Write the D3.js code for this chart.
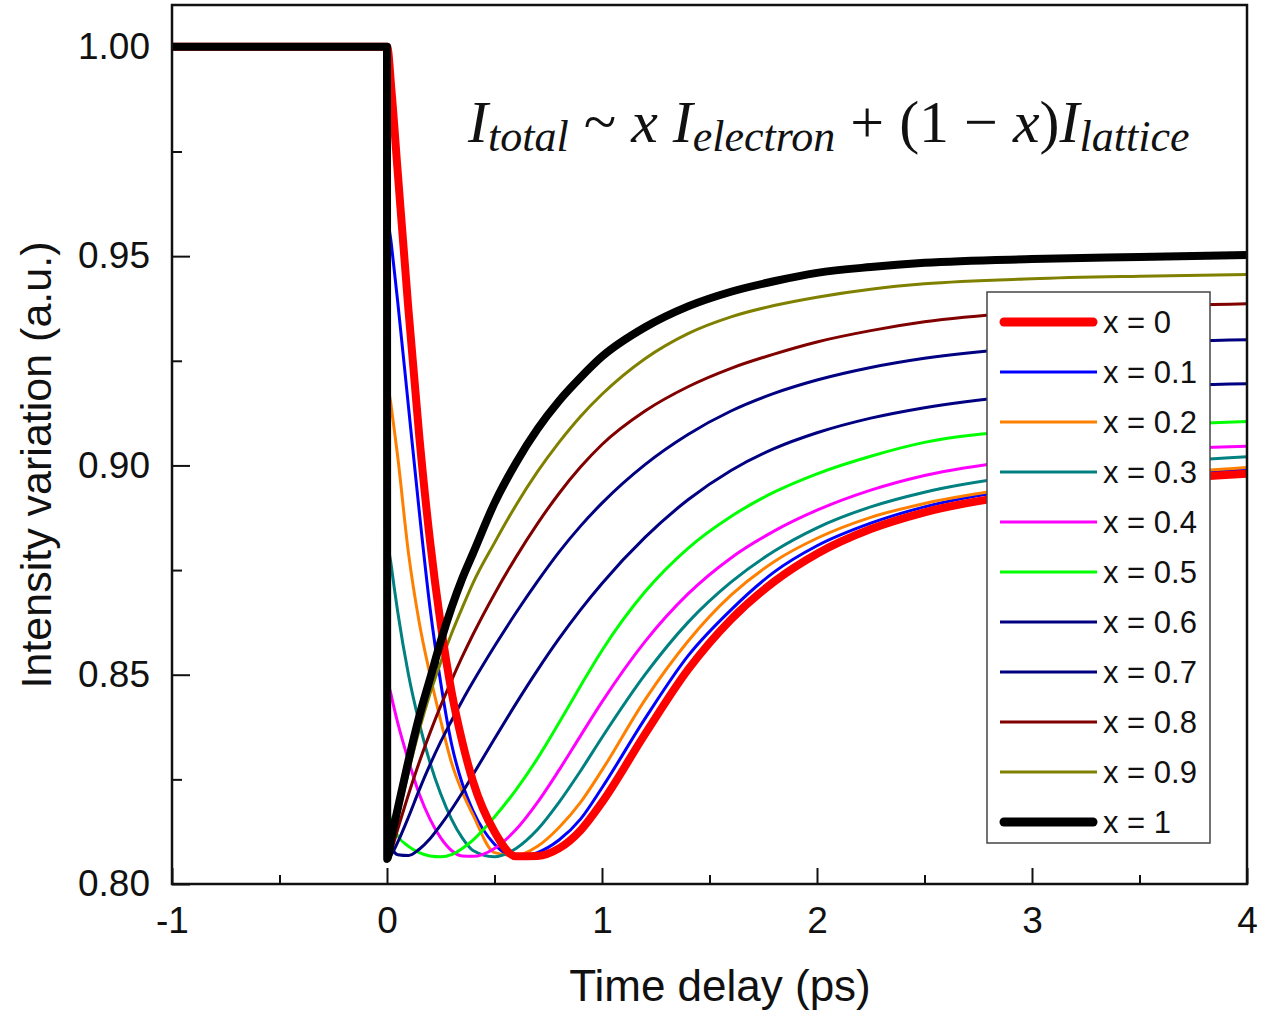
<!DOCTYPE html>
<html>
<head>
<meta charset="utf-8">
<script src="https://cdn.jsdelivr.net/npm/d3@7"></script>
<style>
    body { margin: 0; background: #fff; }
    text { font-family: "Liberation Sans", Arial, sans-serif; fill: #111; }
</style>
</head>
<body>
<svg id="chart" width="1270" height="1014"></svg>
<script>
// time delay (ps), shared by every curve
var times = [-1, 0, 0.001, 0.02, 0.05, 0.1, 0.15, 0.2, 0.25, 0.3, 0.35, 0.4, 0.5, 0.6, 0.7,
    0.8, 0.9, 1.0, 1.2, 1.4, 1.6, 1.8, 2.0, 2.25, 2.5, 3.0, 3.5, 4.0];

// intensity for each mixing ratio x
var x00 = [1, 1, 1.0, 0.990, 0.970, 0.937, 0.907, 0.882, 0.862, 0.846, 0.834, 0.8245, 0.8125, 0.8066, 0.8067,
    0.8085, 0.8128, 0.8195, 0.8358, 0.8512, 0.8632, 0.8722, 0.8789, 0.8848, 0.8888, 0.8934, 0.8962, 0.898];
var x01 = [1, 1, 0.962, 0.953, 0.939, 0.914, 0.889, 0.866, 0.848, 0.8335, 0.824, 0.8175, 0.8095, 0.8065, 0.8075,
    0.8105, 0.8155, 0.823, 0.8395, 0.8545, 0.8655, 0.8745, 0.8808, 0.8862, 0.8901, 0.8948, 0.8975, 0.899];
var x02 = [1, 1, 0.922, 0.914, 0.902, 0.879, 0.8625, 0.850, 0.839, 0.829, 0.822, 0.8165, 0.8075, 0.8068, 0.809,
    0.8135, 0.8195, 0.8272, 0.844, 0.858, 0.869, 0.877, 0.8826, 0.8876, 0.8909, 0.8951, 0.8976, 0.8995];
var x03 = [1, 1, 0.884, 0.876, 0.865, 0.850, 0.8385, 0.829, 0.8215, 0.8155, 0.811, 0.808, 0.8065, 0.8085, 0.813,
    0.8195, 0.827, 0.835, 0.850, 0.8625, 0.8721, 0.8795, 0.8851, 0.8901, 0.8936, 0.8979, 0.9004, 0.9021];
var x04 = [1, 1, 0.850, 0.845, 0.8385, 0.8295, 0.8215, 0.8155, 0.811, 0.808, 0.8067, 0.8066, 0.8085, 0.813, 0.8195,
    0.8272, 0.8354, 0.8435, 0.8579, 0.8693, 0.8779, 0.8843, 0.8893, 0.8941, 0.8976, 0.9016, 0.9036, 0.9046];
var x05 = [1, 1, 0.820, 0.815, 0.8115, 0.809, 0.8075, 0.8067, 0.8065, 0.807, 0.8085, 0.8105, 0.816, 0.8225, 0.830,
    0.8385, 0.8473, 0.8558, 0.8698, 0.8802, 0.8878, 0.8936, 0.898, 0.9022, 0.9055, 0.9085, 0.9095, 0.9105];
var x06 = [1, 1, 0.812, 0.809, 0.807, 0.8068, 0.8083, 0.8108, 0.8141, 0.8178, 0.8218, 0.8261, 0.8347, 0.8431, 0.8511,
    0.8586, 0.8655, 0.8718, 0.8828, 0.8918, 0.8988, 0.904, 0.9078, 0.9113, 0.9138, 0.917, 0.9188, 0.9195];
var x07 = [1, 1, 0.806, 0.807, 0.810, 0.816, 0.8225, 0.8285, 0.834, 0.839, 0.8438, 0.8483, 0.8568, 0.8648, 0.8723,
    0.8793, 0.8855, 0.891, 0.9002, 0.9074, 0.913, 0.9172, 0.9204, 0.9234, 0.9256, 0.9282, 0.9294, 0.930];
var x08 = [1, 1, 0.806, 0.808, 0.8131, 0.8214, 0.8291, 0.8361, 0.8426, 0.8486, 0.8543, 0.8596, 0.8693, 0.8781, 0.8861,
    0.8933, 0.8996, 0.905, 0.913, 0.9188, 0.9232, 0.9266, 0.9295, 0.9322, 0.9343, 0.9367, 0.9379, 0.9386];
var x09 = [1, 1, 0.806, 0.8089, 0.8158, 0.8268, 0.8368, 0.8455, 0.853, 0.8598, 0.866, 0.8719, 0.8815, 0.8905, 0.8985,
    0.9055, 0.9117, 0.917, 0.9255, 0.9315, 0.9355, 0.9382, 0.9402, 0.9421, 0.9434, 0.9446, 0.9452, 0.9456];
var x10 = [1, 1, 0.806, 0.811, 0.818, 0.8295, 0.840, 0.849, 0.858, 0.866, 0.873, 0.879, 0.891, 0.9006, 0.9087,
    0.9154, 0.921, 0.926, 0.933, 0.938, 0.9415, 0.944, 0.946, 0.9474, 0.9484, 0.9493, 0.9498, 0.9503];

var seriesLabels = ['x = 0', 'x = 0.1', 'x = 0.2', 'x = 0.3', 'x = 0.4', 'x = 0.5',
    'x = 0.6', 'x = 0.7', 'x = 0.8', 'x = 0.9', 'x = 1'];
var xTicks = [-1, 0, 1, 2, 3, 4];
var xMinorTicks = [-0.5, 0.5, 1.5, 2.5, 3.5];
var yTicks = [0.80, 0.85, 0.90, 0.95, 1.00];
var yMinorTicks = [0.825, 0.875, 0.925, 0.975];

// styles
var colors = ['#ff0000', '#0000ff', '#ff8000', '#008080', '#ff00ff', '#00ff00',
    '#000080', '#000080', '#800000', '#808000', '#000000'];
var widths = [8, 3, 3, 3, 3, 3, 3, 3, 3, 3, 8];

var series = [x00, x01, x02, x03, x04, x05, x06, x07, x08, x09, x10].map(function (vals, i) {
    return {
        label: seriesLabels[i],
        color: colors[i],
        width: widths[i],
        points: times.map(function (t, j) { return [t, vals[j]]; })
    };
});

var svg = d3.select('#chart');
var margin = {top: 5, right: 23, bottom: 130, left: 172};
var width = 1270 - margin.left - margin.right;
var height = 1014 - margin.top - margin.bottom;

var g = svg.append('g')
    .attr('transform', 'translate(' + [margin.left, margin.top] + ')');

var x = d3.scaleLinear().domain([-1, 4]).range([0, width]);
var y = d3.scaleLinear().domain([0.80, 1.01]).range([height, 0]);

// axes, ticks point inward
g.append('g')
    .attr('transform', 'translate(0,' + height + ')')
    .call(d3.axisBottom(x).tickValues(xTicks).tickSizeInner(-16).tickSizeOuter(0).tickPadding(23)
        .tickFormat(function (d) { return String(d); }));
g.append('g')
    .attr('transform', 'translate(0,' + height + ')')
    .call(d3.axisBottom(x).tickValues(xMinorTicks).tickSizeInner(-9).tickSizeOuter(0).tickFormat(''));

g.append('g')
    .call(d3.axisLeft(y).tickValues(yTicks).tickSizeInner(-18).tickSizeOuter(0).tickPadding(22)
        .tickFormat(d3.format('.2f')));
g.append('g')
    .call(d3.axisLeft(y).tickValues(yMinorTicks).tickSizeInner(-10).tickSizeOuter(0).tickFormat(''));

g.selectAll('.domain').remove();
g.selectAll('.tick line').attr('stroke', '#111').attr('stroke-width', 2);
g.selectAll('.tick text')
    .style('font-size', '37px')
    .style('font-family', '"Liberation Sans", Arial, sans-serif')
    .attr('fill', '#111');

// curves
var line = d3.line()
    .x(function (d) { return x(d[0]); })
    .y(function (d) { return y(d[1]); })
    .curve(d3.curveMonotoneX);

var drawOrder = [1, 2, 3, 4, 5, 6, 7, 8, 9, 0, 10];
g.selectAll('.curve')
    .data(drawOrder.map(function (i) { return series[i]; }))
    .enter()
    .append('path')
    .attr('class', 'curve')
    .attr('d', function (d) { return line(d.points); })
    .style('fill', 'none')
    .attr('stroke', function (d) { return d.color; })
    .attr('stroke-width', function (d) { return d.width; })
    .attr('stroke-linejoin', 'round');

// frame
g.append('rect')
    .attr('width', width)
    .attr('height', height)
    .style('fill', 'none')
    .attr('stroke', '#111')
    .attr('stroke-width', 2.5);

// formula
var formula = svg.append('text')
    .attr('x', 468)
    .attr('y', 142)
    .style('font-family', '"Liberation Serif", "DejaVu Serif", serif')
    .style('font-size', '60px')
    .attr('fill', '#111');

var parts = [
    {t: 'I', it: true}, {t: 'total', it: true, sub: true},
    {t: ' ~ ', it: false}, {t: 'x', it: true}, {t: ' I', it: true},
    {t: 'electron', it: true, sub: true}, {t: ' + (1 \u2212 ', it: false},
    {t: 'x', it: true}, {t: ')', it: false}, {t: 'I', it: true},
    {t: 'lattice', it: true, sub: true}
];
var prevSub = false;
parts.forEach(function (p) {
    var dy = 0;
    if (p.sub && !prevSub) dy = 9;
    if (!p.sub && prevSub) dy = -9;
    formula.append('tspan')
        .attr('dy', dy)
        .style('font-style', p.it ? 'italic' : 'normal')
        .style('font-size', p.sub ? '44px' : '60px')
        .text(p.t);
    prevSub = !!p.sub;
});

// axis titles
svg.append('text')
    .attr('x', 720)
    .attr('y', 1001)
    .attr('text-anchor', 'middle')
    .style('font-size', '44px')
    .text('Time delay (ps)');

svg.append('text')
    .attr('transform', 'translate(36,465)rotate(-90)')
    .attr('text-anchor', 'middle')
    .attr('dy', '0.35em')
    .style('font-size', '43px')
    .text('Intensity variation (a.u.)');

// legend
var legend = svg.append('g')
    .attr('transform', 'translate(987,292)');

legend.append('rect')
    .attr('width', 223)
    .attr('height', 551)
    .style('fill', '#fff')
    .attr('stroke', '#444')
    .attr('stroke-width', 1.5);

var rows = legend.selectAll('.row')
    .data(series)
    .enter()
    .append('g')
    .attr('class', 'row')
    .attr('transform', function (d, i) { return 'translate(0,' + (30 + i * 50) + ')'; });

rows.append('line')
    .attr('x1', function (d) { return d.width > 5 ? 17 : 13; })
    .attr('x2', function (d) { return d.width > 5 ? 106 : 110; })
    .attr('stroke', function (d) { return d.color; })
    .attr('stroke-width', function (d) { return d.width > 5 ? 9 : 3; })
    .attr('stroke-linecap', function (d) { return d.width > 5 ? 'round' : 'butt'; });

rows.append('text')
    .attr('x', 116)
    .attr('dy', '0.35em')
    .style('font-size', '31px')
    .text(function (d) { return d.label; });
</script>
</body>
</html>
